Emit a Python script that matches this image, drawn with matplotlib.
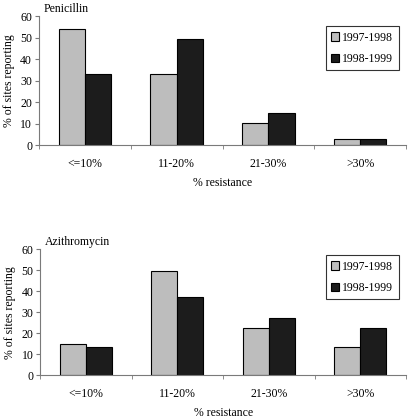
import matplotlib
matplotlib.use("Agg")
import matplotlib.pyplot as plt
import numpy as np

categories = ["<=10%", "11-20%", "21-30%", ">30%"]
series_names = ["1997-1998", "1998-1999"]
penicillin_9798 = [54, 33, 10.3, 3]
penicillin_9899 = [33, 49.3, 15, 3]
azithro_9798 = [15, 49.4, 22.3, 13.4]
azithro_9899 = [13.4, 37.3, 27, 22.3]

plt.rcParams['font.family'] = ['Liberation Serif', 'DejaVu Serif']
plt.rcParams['font.size'] = 8.5

fig = plt.figure(figsize=(4.09, 4.18), dpi=100)

gray = "#bdbdbd"
dark = "#1c1c1c"
axcol = "#7a7a7a"


def panel(rect, v1, v2, title, legy):
	ax = fig.add_axes(rect)
	x = np.arange(len(categories))
	w = 0.285
	ax.bar(x - w / 2, v1, w, color=gray, edgecolor="black", linewidth=0.8, label=series_names[0])
	ax.bar(x + w / 2, v2, w, color=dark, edgecolor="black", linewidth=0.8, label=series_names[1])
	ax.set_xlim(-0.5, 3.5)
	ax.set_ylim(0, 60)
	ax.set_yticks(range(0, 61, 10))
	ax.set_xticks(x)
	ax.set_xticklabels(categories)
	ax.set_xticks(np.arange(-0.5, 3.6, 1), minor=True)
	ax.tick_params(axis='x', which='major', length=0, pad=9)
	ax.tick_params(axis='x', which='minor', length=3, color=axcol)
	ax.tick_params(axis='y', length=3, color=axcol, pad=2)
	for s in ["top", "right"]:
		ax.spines[s].set_visible(False)
	for s in ["left", "bottom"]:
		ax.spines[s].set_color(axcol)
		ax.spines[s].set_linewidth(0.8)
	ax.set_xlabel("% resistance", labelpad=5)
	ax.set_ylabel("% of sites reporting", labelpad=4)
	ax.text(0.012, 1.03, title, transform=ax.transAxes, fontsize=8.5)
	leg = ax.legend(loc="upper right", bbox_to_anchor=(0.98, legy), frameon=True, fancybox=False,
		handlelength=0.7, handleheight=0.7, handletextpad=0.25, borderpad=0.45, labelspacing=0.78,
		borderaxespad=0)
	leg.get_frame().set_edgecolor("black")
	leg.get_frame().set_linewidth(0.8)
	return ax


panel([0.0954, 0.652, 0.8973, 0.3097], penicillin_9798, penicillin_9899, "Penicillin", 0.92)
panel([0.0985, 0.1022, 0.8942, 0.3021], azithro_9798, azithro_9899, "Azithromycin", 0.95)

fig.savefig("out.png", dpi=100)
